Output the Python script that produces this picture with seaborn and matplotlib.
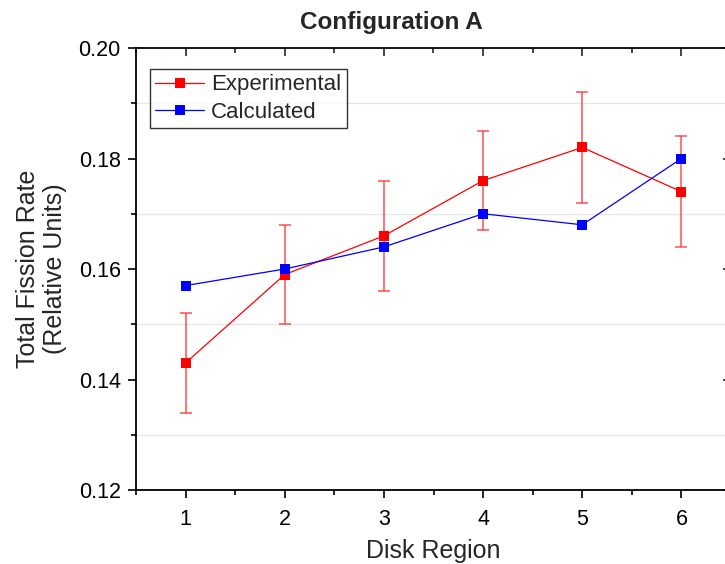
import numpy as np
import pandas as pd
import matplotlib
matplotlib.use("Agg")
import matplotlib.pyplot as plt
from matplotlib.ticker import MultipleLocator
import seaborn as sns

regions = [1, 2, 3, 4, 5, 6]
experimental = [0.143, 0.159, 0.166, 0.176, 0.182, 0.174]
exp_err = [0.009, 0.009, 0.010, 0.009, 0.010, 0.010]
calculated = [0.157, 0.160, 0.164, 0.170, 0.168, 0.180]

df = pd.DataFrame({
    "Disk Region": regions * 2,
    "value": experimental + calculated,
    "series": ["Experimental"] * 6 + ["Calculated"] * 6,
})

sns.set_style("ticks")
plt.rcParams["font.family"] = ["Liberation Sans", "DejaVu Sans"]

fig = plt.figure(figsize=(7.25, 5.64), dpi=100)
ax = fig.add_axes([136 / 725, 1 - 490 / 564, (731 - 136) / 725, (490 - 48) / 564])

# error bars first, under the markers
ax.errorbar(regions, experimental, yerr=exp_err, fmt="none", ecolor="#ff3333",
            elinewidth=1.2, capsize=4.5, capthick=1.2, alpha=0.8, zorder=2)

sns.lineplot(data=df, x="Disk Region", y="value", hue="series",
             palette={"Experimental": "#ff0000", "Calculated": "#0000ff"},
             marker="s", markersize=7.5, markeredgewidth=0, linewidth=0.9,
             ax=ax, zorder=3)

ax.set_xlim(0.5, 6.5)
ax.set_ylim(0.12, 0.20)
ax.xaxis.set_major_locator(MultipleLocator(1))
ax.xaxis.set_minor_locator(MultipleLocator(0.5))
ax.yaxis.set_major_locator(MultipleLocator(0.02))
ax.yaxis.set_minor_locator(MultipleLocator(0.01))
ax.yaxis.set_major_formatter(matplotlib.ticker.FormatStrFormatter("%.2f"))

# light grid at the minor y positions only
ax.grid(False)
ax.grid(which="minor", axis="y", color="#e6e6e6", linewidth=0.9)

for s in ax.spines.values():
    s.set_visible(True)
    s.set_linewidth(1.3)
    s.set_color("black")

ax.tick_params(which="both", bottom=True, left=True, top=False, right=False,
               direction="out", width=1.2, labelsize=15.5, colors="black")
ax.tick_params(which="major", length=6)
ax.tick_params(which="minor", length=3.5)
ax.tick_params(axis="x", pad=8)
ax.tick_params(axis="y", pad=5)

# inward ticks on top and right
ax_top = ax.secondary_xaxis("top")
ax_top.xaxis.set_major_locator(MultipleLocator(1))
ax_top.xaxis.set_minor_locator(MultipleLocator(0.5))
ax_top.tick_params(which="both", direction="in", width=1.2, labeltop=False)
ax_top.tick_params(which="major", length=6)
ax_top.tick_params(which="minor", length=3.5)
ax_top.spines["top"].set_visible(False)

ax_right = ax.secondary_yaxis("right")
ax_right.yaxis.set_major_locator(MultipleLocator(0.02))
ax_right.yaxis.set_minor_locator(MultipleLocator(0.01))
ax_right.tick_params(which="both", direction="in", width=1.2, labelright=False)
ax_right.tick_params(which="major", length=6)
ax_right.tick_params(which="minor", length=3.5)
ax_right.spines["right"].set_visible(False)

ax.set_xlabel("Disk Region", fontsize=18, labelpad=6)
ax.set_ylabel("Total Fission Rate\n(Relative Units)", fontsize=18, labelpad=8)
ax.set_title("Configuration A", fontsize=17.5, fontweight="bold", pad=14, x=0.43)

leg = ax.legend(loc="upper left", bbox_to_anchor=(0.012, 0.968), fontsize=16,
                frameon=True, fancybox=False, handlelength=2.2,
                handletextpad=0.3, borderpad=0.25, labelspacing=0.28,
                borderaxespad=0.3)
leg.get_frame().set_edgecolor("black")
leg.get_frame().set_linewidth(1.0)
leg.set_title(None)

fig.savefig("out.png", dpi=100)
